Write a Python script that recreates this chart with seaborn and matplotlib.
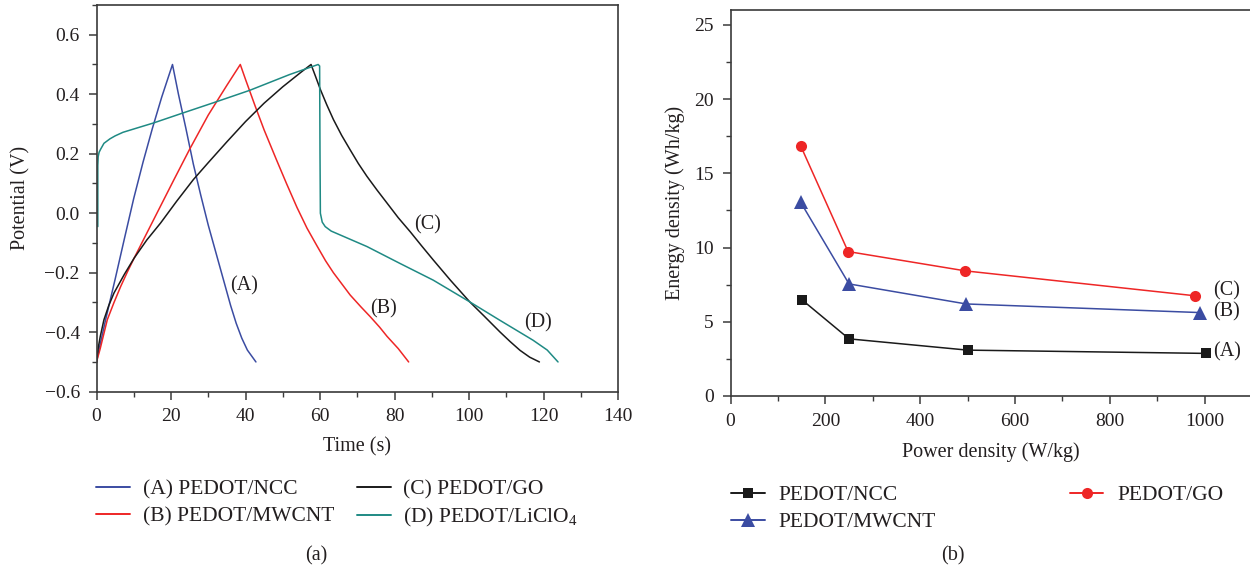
import numpy as np
import pandas as pd
import matplotlib
matplotlib.use("Agg")
import matplotlib.pyplot as plt
from matplotlib.lines import Line2D
from matplotlib.ticker import AutoMinorLocator, MultipleLocator, FuncFormatter
import seaborn as sns

# ---- (a) galvanostatic charge/discharge curves -------------------------
t_ncc = [0, 1, 2.5, 5, 7.5, 10, 12.5, 15, 17.5, 20.4,
         22, 24, 26, 28, 30, 32, 34, 36, 37.5, 39, 40.5, 42.8]
v_ncc = [-0.5, -0.44, -0.355, -0.222, -0.085, 0.05, 0.172, 0.285, 0.39, 0.5,
         0.40, 0.285, 0.165, 0.06, -0.04, -0.13, -0.22, -0.31, -0.37, -0.42, -0.46, -0.5]

t_mwcnt = [0, 1, 2.9, 4.7, 6.5, 8.3, 10.1, 15, 20.8, 25, 30, 35, 38.6,
           40, 42.6, 45, 48.3, 51, 53.8, 56.5, 59.2, 61.5, 63.6, 66, 68.1,
           71, 73.5, 76, 78, 81, 83.8]
v_mwcnt = [-0.5, -0.455, -0.358, -0.3, -0.246, -0.197, -0.151, -0.03, 0.113, 0.215, 0.33,
           0.43, 0.5,
           0.45, 0.36, 0.28, 0.18, 0.10, 0.02, -0.05, -0.11, -0.16, -0.20, -0.24, -0.275,
           -0.315, -0.348, -0.383, -0.414, -0.455, -0.5]

t_go = [0, 0.5, 1, 2, 3.3, 4.7, 7.5, 10.1, 13.5, 17.2, 21.5, 26, 30, 35, 40, 45, 50, 55, 57.6,
        58.8, 60.1, 61.8, 63.6, 65.8, 68.1, 70.3, 72.6, 75.3, 78, 81, 84.2, 87.3, 90.4, 95,
        100.2, 104, 108.3, 111, 113.7, 116.3, 118.9]
v_go = [-0.5, -0.45, -0.415, -0.358, -0.31, -0.268, -0.205, -0.151, -0.09, -0.033, 0.04,
        0.113, 0.17, 0.24, 0.308, 0.37, 0.425, 0.475, 0.5,
        0.46, 0.416, 0.365, 0.315, 0.262, 0.213, 0.167, 0.124, 0.078, 0.034, -0.015, -0.062,
        -0.11, -0.157, -0.225, -0.298, -0.345, -0.399, -0.431, -0.461, -0.484, -0.5]

t_licl = [0.35, 0.35, 0.45, 0.7, 1.1, 2, 3.6, 5, 7.1, 11, 15.2, 23.2, 31.3, 41.1, 51.8, 59.5,
          59.9, 60.0, 60.1, 60.6, 61.4, 63, 65.4, 72.6, 81.5, 90.4, 100.2, 108.3, 117.2,
          121, 123.9]
v_licl = [-0.045, 0.16, 0.19, 0.205, 0.215, 0.235, 0.25, 0.26, 0.272, 0.287, 0.303, 0.337,
          0.371, 0.413, 0.466, 0.5,
          0.495, 0.2, 0.0, -0.03, -0.045, -0.06, -0.073, -0.112, -0.169, -0.225, -0.298,
          -0.36, -0.427, -0.46, -0.5]

gcd_names = ["(A) PEDOT/NCC", "(B) PEDOT/MWCNT", "(C) PEDOT/GO", "(D) PEDOT/LiClO$_4$"]
gcd_tags = ["(A)", "(B)", "(C)", "(D)"]
gcd_tag_xy = [(39.7, -0.245), (77, -0.32), (89, -0.04), (118.6, -0.37)]

# ---- (b) Ragone plot ------------------------------------------------------
rag_names = ["PEDOT/NCC", "PEDOT/MWCNT", "PEDOT/GO"]
p_ncc = [150, 250, 500, 1002]
e_ncc = [6.5, 3.85, 3.09, 2.87]
p_mwcnt = [148, 250, 497, 990]
e_mwcnt = [13.05, 7.55, 6.2, 5.62]
p_go = [148, 248, 495, 980]
e_go = [16.85, 9.73, 8.43, 6.75]
rag_tags = ["(A)", "(B)", "(C)"]
rag_tag_y = [2.95, 5.7, 7.1]

c_blue = "#3b4ca2"
c_red = "#ee2626"
c_black = "#1a1a1a"
c_teal = "#1f8a84"

sns.set_style("ticks")
plt.rcParams["font.family"] = ["Liberation Serif", "DejaVu Serif"]
plt.rcParams["mathtext.fontset"] = "custom"
plt.rcParams["mathtext.rm"] = "Liberation Serif"
plt.rcParams["mathtext.it"] = "Liberation Serif:italic"
plt.rcParams["axes.edgecolor"] = "#3a3a3a"
plt.rcParams["text.color"] = "#231f20"
plt.rcParams["axes.labelcolor"] = "#231f20"
plt.rcParams["xtick.color"] = "#3a3a3a"
plt.rcParams["ytick.color"] = "#3a3a3a"
plt.rcParams["xtick.labelcolor"] = "#231f20"
plt.rcParams["ytick.labelcolor"] = "#231f20"

fig = plt.figure(figsize=(12.5, 5.69), dpi=100)
W, H = 1250, 569


def px_axes(x0, y_top, x1, y_bot):
    return fig.add_axes([x0 / W, 1 - y_bot / H, (x1 - x0) / W, (y_bot - y_top) / H])


ax1 = px_axes(96.5, 5, 618, 391.7)
ax2 = px_axes(730.5, 10, 1252, 396)

# ---- panel (a)
gcd = pd.concat([
    pd.DataFrame({"time": t, "potential": v, "sample": n})
    for t, v, n in zip([t_ncc, t_mwcnt, t_go, t_licl],
                       [v_ncc, v_mwcnt, v_go, v_licl], gcd_names)
], ignore_index=True)
gcd_pal = dict(zip(gcd_names, [c_blue, c_red, c_black, c_teal]))
sns.lineplot(data=gcd, x="time", y="potential", hue="sample", palette=gcd_pal,
             estimator=None, sort=False, linewidth=1.1, legend=False, ax=ax1)
ax1.set_xlim(0, 140)
ax1.set_ylim(-0.6, 0.7)
ax1.xaxis.set_major_locator(MultipleLocator(20))
ax1.xaxis.set_minor_locator(AutoMinorLocator(2))
ax1.yaxis.set_major_locator(MultipleLocator(0.2))
ax1.yaxis.set_minor_locator(AutoMinorLocator(2))
ax1.yaxis.set_major_formatter(FuncFormatter(lambda v, p: f"{v:.1f}".replace("-", "\u2212")))
ax1.set_xlabel("Time (s)", fontsize=14.5)
ax1.set_ylabel("Potential (V)", fontsize=14.5)
ax1.xaxis.set_label_coords(0.5, -0.117)
ax1.yaxis.set_label_coords(-0.127, 0.5)
for tag, (tx, ty) in zip(gcd_tags, gcd_tag_xy):
    ax1.text(tx, ty, tag, fontsize=14.5, ha="center", va="center")

# ---- panel (b)
rag = pd.concat([
    pd.DataFrame({"power": p, "energy": e, "sample": n})
    for p, e, n in zip([p_ncc, p_mwcnt, p_go], [e_ncc, e_mwcnt, e_go], rag_names)
], ignore_index=True)
rag_pal = dict(zip(rag_names, [c_black, c_blue, c_red]))
rag_mk = dict(zip(rag_names, ["s", "^", "o"]))
sns.lineplot(data=rag, x="power", y="energy", hue="sample", style="sample",
             palette=rag_pal, markers=rag_mk, dashes=False, estimator=None, sort=False,
             linewidth=1.1, markersize=8, markeredgewidth=0, legend=False, ax=ax2)
# marker sizes per series
for ln, ms in zip(ax2.get_lines(), [7, 9.5, 8]):
    ln.set_markersize(ms)
ax2.set_xlim(0, 1100)
ax2.set_ylim(0, 26)
ax2.xaxis.set_major_locator(MultipleLocator(200))
ax2.xaxis.set_minor_locator(AutoMinorLocator(2))
ax2.yaxis.set_major_locator(MultipleLocator(5))
ax2.yaxis.set_minor_locator(AutoMinorLocator(2))
ax2.set_xlabel("Power density (W/kg)", fontsize=14.5)
ax2.set_ylabel("Energy density (Wh/kg)", fontsize=14.5)
ax2.xaxis.set_label_coords(0.5, -0.119)
ax2.yaxis.set_label_coords(-0.087, 0.5)
for tag, ty in zip(rag_tags, rag_tag_y):
    ax2.text(1017, ty, tag, fontsize=14.5, ha="left", va="center")

for ax in (ax1, ax2):
    for s in ax.spines.values():
        s.set_linewidth(1.2)
    ax.tick_params(which="major", direction="out", length=6, width=1.1, labelsize=14, pad=6)
    ax.tick_params(which="minor", direction="out", length=3.5, width=1.0)
    ax.tick_params(top=False, right=False, which="both")

# ---- legends
fs = 15.5
fpx = fs * 100 / 72


def add_leg(items, x_left, y_top, hl_px, pad_px):
    handles = [h for h, _ in items]
    labels = [l for _, l in items]
    fig.legend(handles, labels, loc="upper left",
               bbox_to_anchor=(x_left / W, 1 - y_top / H), frameon=False,
               fontsize=fs, borderpad=0, borderaxespad=0,
               handlelength=hl_px / fpx, handletextpad=pad_px / fpx,
               labelspacing=0.34)


lw = 1.4
add_leg([(Line2D([], [], color=c_blue, lw=lw), gcd_names[0]),
         (Line2D([], [], color=c_red, lw=lw), gcd_names[1])], 96, 479, 34, 12.7)
add_leg([(Line2D([], [], color=c_black, lw=lw), gcd_names[2]),
         (Line2D([], [], color=c_teal, lw=lw), gcd_names[3])], 356.7, 479, 34, 12.7)
add_leg([(Line2D([], [], color=c_black, lw=lw, marker="s", ms=7, mew=0), rag_names[0]),
         (Line2D([], [], color=c_blue, lw=lw, marker="^", ms=9.5, mew=0), rag_names[1])],
        731, 485, 34, 13)
add_leg([(Line2D([], [], color=c_red, lw=lw, marker="o", ms=8, mew=0), rag_names[2])],
        1070, 485, 33, 14.5)

fig.text(316.7 / W, 1 - 556 / H, "(a)", fontsize=14.5, ha="center", va="center")
fig.text(953 / W, 1 - 556 / H, "(b)", fontsize=14.5, ha="center", va="center")

fig.savefig("out.png", dpi=100)
